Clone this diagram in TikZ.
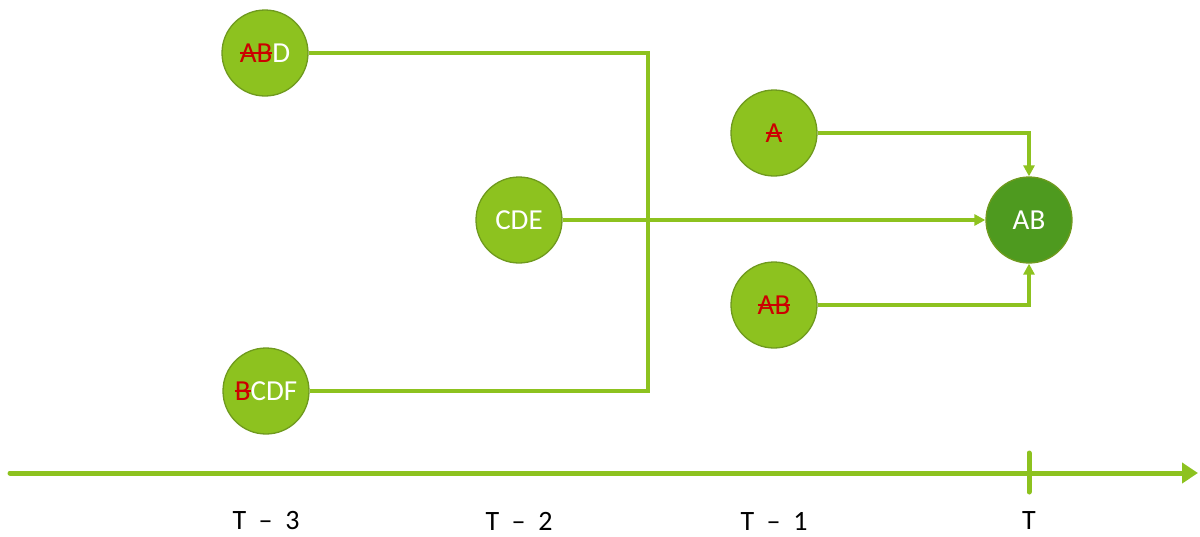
\documentclass[tikz,border=0pt]{standalone}
\usepackage{fontspec}
\setmainfont{Carlito}
\usetikzlibrary{arrows.meta}
\definecolor{lgreen}{HTML}{8DC21F}
\definecolor{lborder}{HTML}{6F9A1E}
\definecolor{dgreen}{HTML}{4E9A1F}
\definecolor{sred}{HTML}{CC0000}
\newcommand\strk[1]{{\color{sred}\setbox0\hbox{#1}\rlap{\raisebox{0.3em}{\rule{\wd0}{1.6pt}}}\box0}}
\newcommand\tsep{\hspace{0.45em}}
\tikzset{
  st/.style={circle, fill=lgreen, draw=lborder, line width=1.3pt, minimum size=86pt, inner sep=0pt, text=white, font=\fontsize{29}{29}\selectfont},
  tg/.style={st, fill=dgreen},
  conn/.style={draw=lgreen, line width=3.5pt},
  arr/.style={conn, -{Triangle[length=11pt,width=11pt]}},
  lbl/.style={font=\fontsize{28}{28}\selectfont}
}
\begin{document}
\begin{tikzpicture}[x=1pt,y=-1pt]
\useasboundingbox (0,0) rectangle (1200,536);
\node[st] (abd) at (265,53) {\strk{AB}D};
\node[st] (bcdf) at (266,391) {\strk{B}CDF};
\node[st] (cde) at (519,220) {CDE};
\node[st] (a) at (774,133) {\strk{A}};
\node[st] (ab1) at (774,305) {\strk{AB}};
\node[tg] (ab) at (1029,220) {AB};
\coordinate (j) at (648,220);
\draw[conn] (abd.east) -| (j) |- (bcdf.east);
\draw[arr] (cde.east) -- (ab.west);
\draw[arr] (a.east) -| (ab.north);
\draw[arr] (ab1.east) -| (ab.south);
\coordinate (ax0) at (10,473);
\coordinate (ax1) at (1198,473);
\coordinate (tk0) at (1029,453);
\coordinate (tk1) at (1029,492);
\draw[draw=lgreen, line width=5pt, line cap=round, -{Triangle[length=16pt,width=20pt]}] (ax0) -- (ax1);
\draw[draw=lgreen, line width=5pt, line cap=round] (tk0) -- (tk1);
\node[lbl] (t3) at (266,521) {T\tsep–\tsep3};
\node[lbl] (t2) at (519,521) {T\tsep–\tsep2};
\node[lbl] (t1) at (774,521) {T\tsep–\tsep1};
\node[lbl] (t0) at (1029,521) {T};
\end{tikzpicture}
\end{document}
